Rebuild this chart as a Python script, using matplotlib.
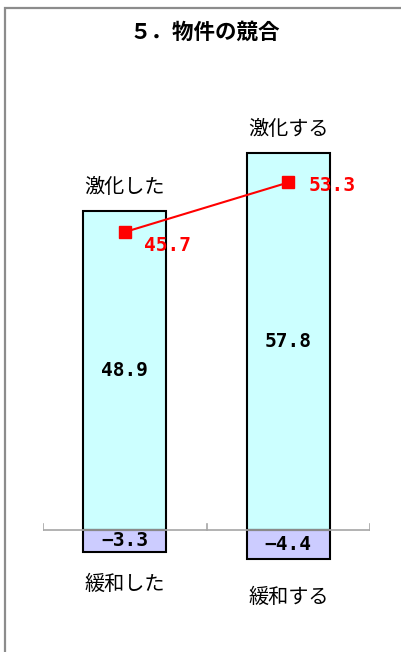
import matplotlib
matplotlib.use("Agg")
import matplotlib.pyplot as plt
from matplotlib.patches import Rectangle

# Data
categories = ["した", "する"]
up_labels = ["激化した", "激化する"]
down_labels = ["緩和した", "緩和する"]
up_values = [48.9, 57.8]
down_values = [-3.3, -4.4]
di_values = [45.7, 53.3]

jp = ["Noto Sans CJK JP", "DejaVu Sans"]
mono = ["DejaVu Sans Mono"]

fig = plt.figure(figsize=(4.01, 6.52), dpi=100)

# outer frame
fig.patches.append(Rectangle((5 / 401, -0.05), 1.2, (652 - 8) / 652 + 0.05,
                             transform=fig.transFigure, fill=False,
                             edgecolor="#8c8c8c", linewidth=1.6))

fig.text(0.51, 1 - 32 / 652, "５．物件の競合", ha="center", va="center",
         fontsize=15.5, fontweight="bold", family=jp)

ax = fig.add_axes([43 / 401, 0.0871, 327 / 401, 0.8])
ax.set_xlim(-0.5, 1.5)
ax.set_ylim(-10, 70)
ax.axis("off")

x = list(range(len(categories)))
w = 0.51

ax.bar(x, up_values, width=w, color="#ccffff", edgecolor="black", linewidth=1.5, zorder=2)
ax.bar(x, down_values, width=w, color="#ccccff", edgecolor="black", linewidth=1.5, zorder=2)

# zero line with small ticks between categories
ax.axhline(0, color="#a6a6a6", linewidth=1.2, zorder=3)
for t in [-0.5, 0.5, 1.5]:
    ax.plot([t, t], [0, 0.9], color="#a6a6a6", linewidth=1.2, zorder=3)

# DI line
ax.plot(x, di_values, color="red", linewidth=1.5, marker="s", markersize=8.5, zorder=4)

for i in x:
    ax.text(i, up_values[i] / 2, f"{up_values[i]:.1f}", ha="center", va="center",
            fontsize=14, fontweight="bold", family=mono, zorder=5)
    ax.text(i, down_values[i] / 2, f"{down_values[i]:.1f}".replace("-", "−"),
            ha="center", va="center", fontsize=14, fontweight="bold", family=mono, zorder=5)
    ax.annotate(up_labels[i], (i, up_values[i]), xytext=(0, 17), textcoords="offset points",
                ha="center", va="center", fontsize=14.5, family=jp)

ax.annotate(down_labels[0], (0, down_values[0]), xytext=(0, -24), textcoords="offset points",
            ha="center", va="center", fontsize=14.5, family=jp)
ax.annotate(down_labels[1], (1, down_values[1]), xytext=(0, -28), textcoords="offset points",
            ha="center", va="center", fontsize=14.5, family=jp)

offsets = [(14, -10), (14.5, -2)]
for i in x:
    ax.annotate(f"{di_values[i]:.1f}", (i, di_values[i]), xytext=offsets[i],
                textcoords="offset points", ha="left", va="center", color="red",
                fontsize=14, fontweight="bold", family=mono, zorder=5)

fig.savefig("out.png", dpi=100)
